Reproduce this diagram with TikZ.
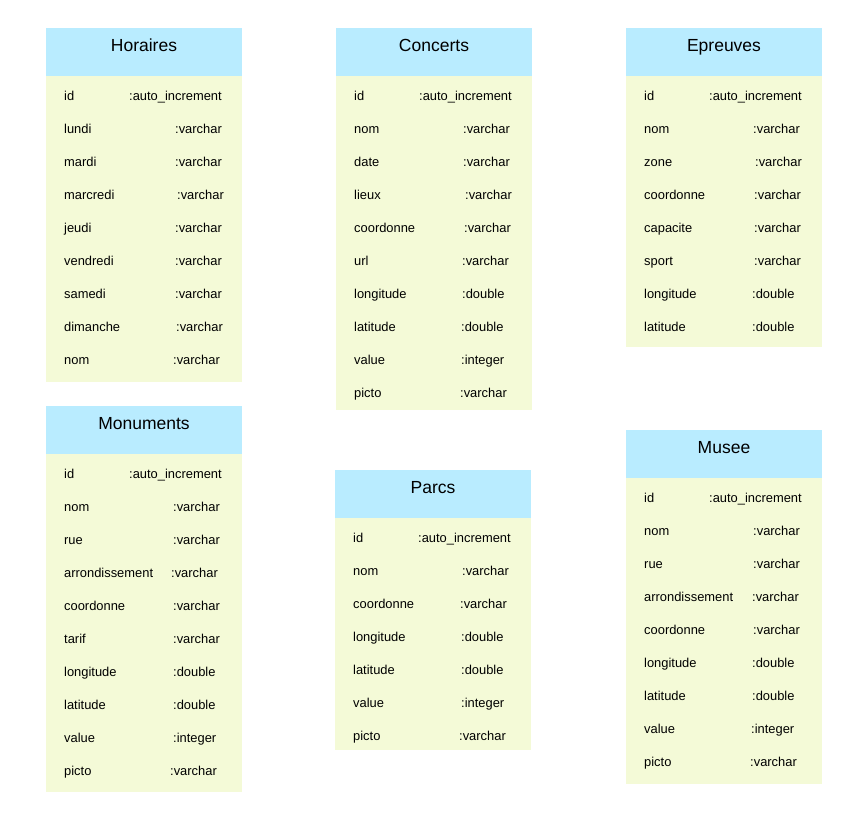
\documentclass[tikz,border=0pt]{standalone}
\usepackage{fontspec}
\setmainfont{Liberation Sans}
\definecolor{hdrblue}{RGB}{185,236,255}
\definecolor{bodygreen}{RGB}{244,250,215}
\newcommand\dbtable[7]{%
  % #1 name, #2 left x, #3 top y, #4 bottom y, #5 title, #6 rows (field/type/typex)
  \node[hdrbox, anchor=north west] (#1-hdr) at (#2,#3) {};
  \node[titletext] (#1-title) at (#2+98,#3+17) {#5};
  \path (#2,#3+48) coordinate (#1-bt);
  \fill[bodygreen] (#1-bt) rectangle (#2+196,#4);
  \foreach \fld/\typ/\tx [count=\i] in {#6} {
    \node[rowtext] (#1-f\i) at (#2+18,#3+68+33*\i-33) {\fld};
    \node[rowtext] (#1-t\i) at (\tx,#3+68+33*\i-33) {\typ};
  }%
}
\begin{document}
\begin{tikzpicture}[x=1pt,y=-1pt,
  hdrbox/.style={fill=hdrblue, draw=none, minimum width=196pt, minimum height=48pt, inner sep=0pt, outer sep=0pt},
  titletext/.style={font=\fontsize{17.5}{20}\selectfont, inner sep=0pt, text height=12.5pt, text depth=0pt},
  rowtext/.style={anchor=west, font=\fontsize{12.9}{15}\selectfont, inner sep=0pt, text height=9.3pt, text depth=0pt}]
\useasboundingbox (0,0) rectangle (866,820);

\dbtable{hor}{46}{28}{382}{Horaires}{id/:auto\_increment/129, lundi/:varchar/175, mardi/:varchar/175, marcredi/:varchar/177, jeudi/:varchar/175, vendredi/:varchar/175, samedi/:varchar/175, dimanche/:varchar/176, nom/:varchar/173}{}

\dbtable{con}{336}{28}{410}{Concerts}{id/:auto\_increment/419, nom/:varchar/463, date/:varchar/463, lieux/:varchar/465, coordonne/:varchar/464, url/:varchar/462, longitude/:double/462, latitude/:double/461, value/:integer/461, picto/:varchar/460}{}

\dbtable{epr}{626}{28}{347}{Epreuves}{id/:auto\_increment/709, nom/:varchar/753, zone/:varchar/755, coordonne/:varchar/754, capacite/:varchar/754, sport/:varchar/754, longitude/:double/752, latitude/:double/752}{}

\dbtable{mon}{46}{406}{792}{Monuments}{id/:auto\_increment/129, nom/:varchar/173, rue/:varchar/173, arrondissement/:varchar/171, coordonne/:varchar/173, tarif/:varchar/173, longitude/:double/173, latitude/:double/173, value/:integer/173, picto/:varchar/170}{}

\dbtable{par}{335}{470}{750}{Parcs}{id/:auto\_increment/418, nom/:varchar/462, coordonne/:varchar/460, longitude/:double/461, latitude/:double/461, value/:integer/461, picto/:varchar/459}{}

\dbtable{mus}{626}{430}{784}{Musee}{id/:auto\_increment/709, nom/:varchar/753, rue/:varchar/753, arrondissement/:varchar/752, coordonne/:varchar/753, longitude/:double/752, latitude/:double/752, value/:integer/751, picto/:varchar/750}{}
\end{tikzpicture}
\end{document}
